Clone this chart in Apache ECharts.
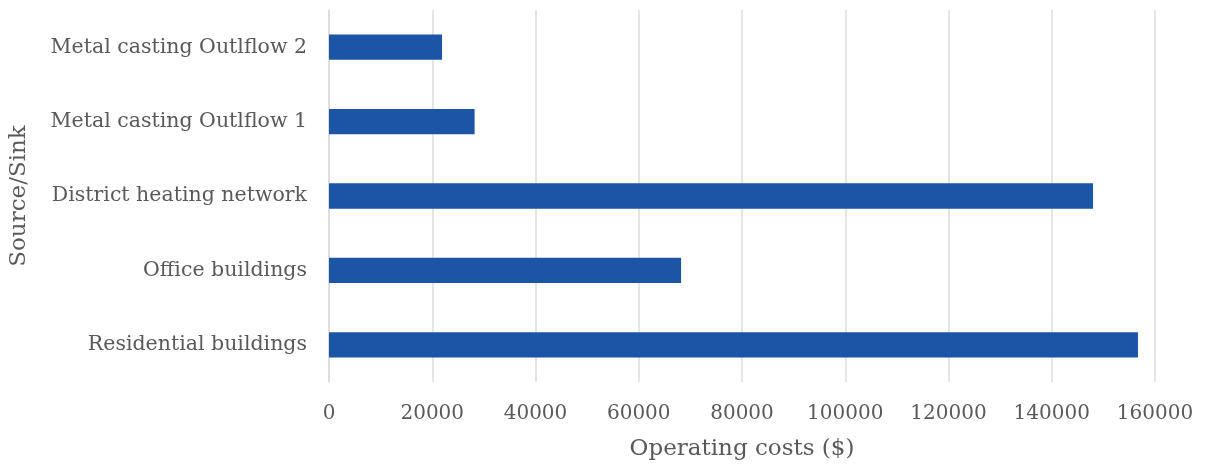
<!DOCTYPE html>
<html>
<head>
<meta charset="utf-8">
<script src="https://cdn.jsdelivr.net/npm/echarts@6/dist/echarts.min.js"></script>
<style>
  html, body { margin: 0; padding: 0; background: #fff; }
  #box1 { width: 1206px; height: 466px; }
</style>
</head>
<body>
<div id="box1"></div>
<script>
var categories = ['Residential buildings', 'Office buildings', 'District heating network', 'Metal casting Outlflow 1', 'Metal casting Outlflow 2'];
var costs = [156700, 68200, 148000, 28200, 21900];
var xTicks = [0, 20000, 40000, 60000, 80000, 100000, 120000, 140000, 160000];

window.onload = function () {
    var myChart = echarts.init(document.getElementById("box1"));
    var font = '"DejaVu Serif", Georgia, serif';
    var textColor = '#595959';

    var option = {
        animation: false,
        grid: { left: 329, right: 51, top: 10, bottom: 80 },
        xAxis: {
            type: 'value',
            min: xTicks[0],
            max: xTicks[xTicks.length - 1],
            interval: xTicks[1] - xTicks[0],
            name: 'Operating costs ($)',
            nameLocation: 'middle',
            nameGap: 56,
            nameTextStyle: { fontFamily: font, fontSize: 23, color: textColor },
            axisLine: { show: false },
            axisTick: { show: false },
            axisLabel: {
                fontFamily: font, fontSize: 20, color: textColor, margin: 22,
                formatter: function (v) { return String(v); }
            },
            splitLine: { lineStyle: { color: '#dcdcdc', width: 1.5 } }
        },
        yAxis: {
            type: 'category',
            data: categories,
            name: 'Source/Sink',
            nameLocation: 'middle',
            nameGap: 298,
            nameTextStyle: { fontFamily: font, fontSize: 23, color: textColor },
            axisLine: { show: true, lineStyle: { color: '#dcdcdc', width: 1.5 } },
            axisTick: { show: false },
            axisLabel: { fontFamily: font, fontSize: 20.5, color: textColor, margin: 22 }
        },
        series: [{
            type: 'bar',
            data: costs,
            barWidth: '34%',
            itemStyle: { color: '#1c54a6' }
        }]
    };
    myChart.setOption(option);
    window.addEventListener('resize', function () {
        myChart.resize();
    });
}
</script>
</body>
</html>
